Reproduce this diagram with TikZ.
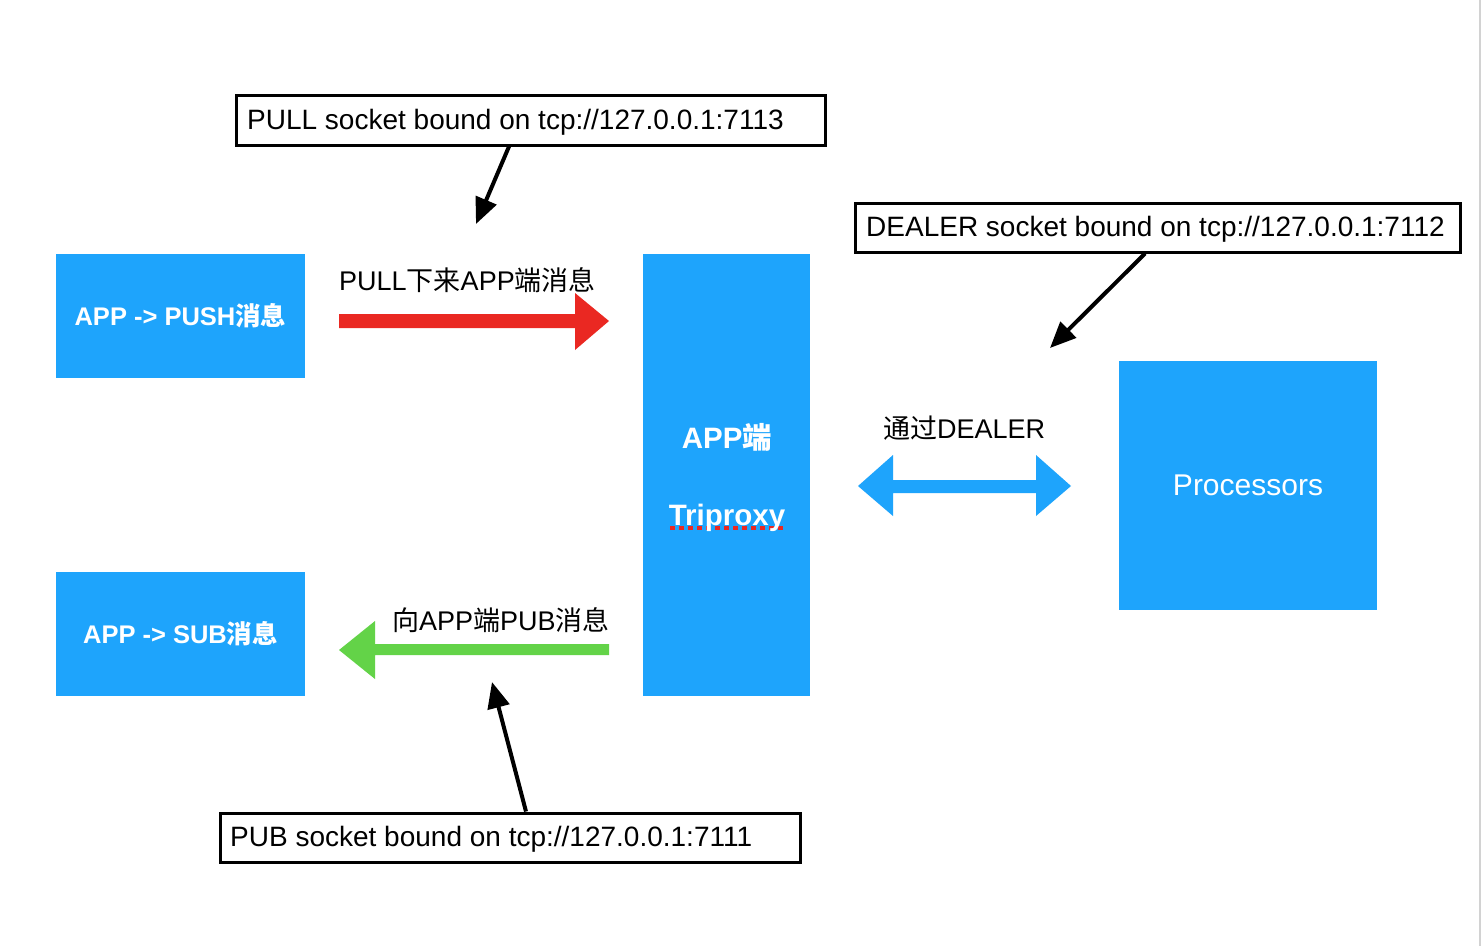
\documentclass[tikz,border=0pt]{standalone}
\usepackage{fontspec}
\setmainfont{Liberation Sans}
\newfontfamily\cjk{Noto Sans CJK SC}
\newcommand\zh[1]{{\cjk #1}}
\usetikzlibrary{arrows.meta}
\definecolor{boxblue}{RGB}{30,164,252}
\definecolor{arrred}{RGB}{234,40,34}
\definecolor{arrgreen}{RGB}{99,211,72}
\definecolor{edgegray}{RGB}{210,210,210}
\begin{document}
\begin{tikzpicture}[x=1pt,y=-1pt,
  bluebox/.style={fill=boxblue,draw=none,inner sep=0pt,text=white,font=\fontsize{25.5}{30}\selectfont\bfseries},
  sockbox/.style={draw=black,line width=3pt,fill=white,inner sep=0pt,anchor=north west},
  socktext/.style={anchor=base west,inner sep=0pt,font=\fontsize{28}{33}\selectfont},
  lbl/.style={anchor=base west,inner sep=0pt,font=\fontsize{27}{32}\selectfont},
  ptr/.style={draw=black,line width=4pt,-{Triangle[length=26pt,width=22pt]}}
]
\useasboundingbox (0,0) rectangle (1482,946);
\fill[white] (0,0) rectangle (1482,946);
\draw[edgegray,line width=2pt] (1480,0) -- (1480,946);

% blue boxes
\node[bluebox,minimum width=249,minimum height=124] (push) at (180.5,316) {APP -> PUSH\zh{消息}};
\node[bluebox,minimum width=249,minimum height=124] (sub) at (180.5,634) {APP -> SUB\zh{消息}};
\node[bluebox,minimum width=167,minimum height=442] (proxy) at (726.5,475) {};
\node[inner sep=0pt,text=white,font=\fontsize{29.5}{34}\selectfont\bfseries] (appd) at (727,437) {APP\zh{端}};
\draw[arrred,line width=3.5pt,dash pattern=on 5pt off 4pt] (670,528) -- (786,528);
\node[inner sep=0pt,text=white,font=\fontsize{29.5}{34}\selectfont\bfseries] (tri) at (727,518) {Triproxy};
\node[fill=boxblue,inner sep=0pt,minimum width=258,minimum height=249,text=white,font=\fontsize{30}{35}\selectfont] (proc) at (1248,485.5) {Processors};

% socket boxes
\node[sockbox,minimum width=589,minimum height=50] (pullbox) at (234.5,93.5) {};
\node[socktext] (pullt) at (247,129) {PULL socket bound on tcp://127.0.0.1:7113};
\node[sockbox,minimum width=605,minimum height=49] (dealbox) at (853.5,201.5) {};
\node[socktext] (dealt) at (866,236) {DEALER socket bound on tcp://127.0.0.1:7112};
\node[sockbox,minimum width=580,minimum height=49] (pubbox) at (218.5,811.5) {};
\node[socktext] (pubt) at (230,846) {PUB socket bound on tcp://127.0.0.1:7111};

% labels
\node[lbl] (l1) at (339,290) {PULL\zh{下来}APP\zh{端消息}};
\node[lbl] (l2) at (392,630) {\zh{向}APP\zh{端}PUB\zh{消息}};
\node[lbl] (l3) at (883,438) {\zh{通过}DEALER};

% block arrows
\fill[arrred] (339,314) -- (575,314) -- (575,293) -- (609,321) -- (575,350) -- (575,328) -- (339,328) -- cycle;
\fill[arrgreen] (609,644) -- (375,644) -- (375,621) -- (339,650) -- (375,679) -- (375,655) -- (609,655) -- cycle;
\fill[boxblue] (858,486) -- (893,455) -- (893,480) -- (1036,480) -- (1036,455) -- (1071,486) -- (1036,516) -- (1036,493) -- (893,493) -- (893,516) -- cycle;

% pointers
\coordinate (p1) at (476,224);
\coordinate (p2) at (1050,348);
\coordinate (p3) at (492,682);
\draw[ptr] (pullbox.south -| 509,0) -- (p1);
\draw[ptr] (dealbox.south -| 1145,0) -- (p2);
\draw[ptr] (pubbox.north -| 526,0) -- (p3);
\end{tikzpicture}
\end{document}
